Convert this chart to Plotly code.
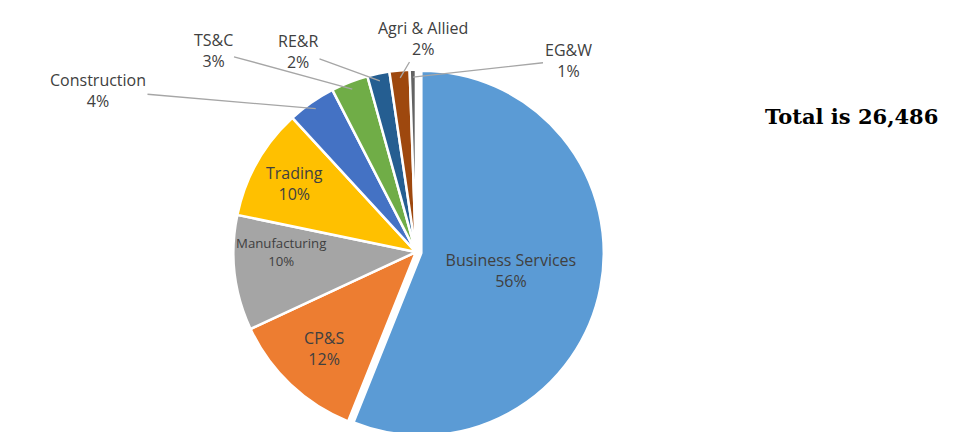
import math
import plotly.graph_objects as go

sectors = ["Business Services", "CP&S", "Manufacturing", "Trading", "Construction",
           "TS&C", "RE&R", "Agri & Allied", "EG&W"]
counts = [14850, 3180, 2700, 2620, 1130, 870, 520, 470, 146]
colors = ["#5B9BD5", "#ED7D31", "#A5A5A5", "#FFC000", "#4472C4",
          "#70AD47", "#255E91", "#9E480E", "#636363"]
inside = [True, True, True, True, False, False, False, False, False]
total_label = "Total is 26,486"

W, H = 969, 432
# pie box in pixels
dom_x = [0.221, 0.621]
dom_y = [0.0, 0.87]
pull0 = 0.03

# where the outside labels sit (pixel centre of the label)
label_xy = {
    "Construction": (90, 82),
    "TS&C": (205, 43),
    "RE&R": (290, 43),
    "Agri & Allied": (415, 31),
    "EG&W": (560, 52),
}

fig = go.Figure()

fig.add_trace(
    go.Pie(
        labels=sectors,
        values=counts,
        sort=False,
        direction="clockwise",
        rotation=0,
        pull=[pull0] + [0] * (len(sectors) - 1),
        marker=dict(colors=colors, line=dict(color="white", width=2.5)),
        texttemplate=["%{label}<br>%{percent:.0%}" if s else "" for s in inside],
        textposition=["inside" if s else "none" for s in inside],
        insidetextorientation="horizontal",
        textfont=dict(family="Open Sans", size=16, color="#404040"),
        showlegend=False,
        hoverinfo="label+value+percent",
        domain=dict(x=dom_x, y=dom_y),
    )
)

# leader-line labels for the small slices
cx = (dom_x[0] + dom_x[1]) / 2 * W
cy = (1 - (dom_y[0] + dom_y[1]) / 2) * H
r = min((dom_x[1] - dom_x[0]) * W, (dom_y[1] - dom_y[0]) * H) / 2.17
total = sum(counts)
cum = 0
for name, v, s in zip(sectors, counts, inside):
    mid = (cum + v / 2) / total * 2 * math.pi
    cum += v
    if s:
        continue
    tx = cx + r * 1.01 * math.sin(mid)
    ty = cy - r * 1.01 * math.cos(mid)
    lx, ly = label_xy[name]
    fig.add_annotation(
        text=f"{name}<br>{round(v / total * 100)}%",
        x=tx / W, y=1 - ty / H, xref="paper", yref="paper",
        ax=lx - tx, ay=ly - ty,
        showarrow=True, arrowhead=0, arrowwidth=1.3, arrowcolor="#A6A6A6",
        font=dict(family="Open Sans", size=16, color="#404040"),
        align="center",
    )

fig.add_annotation(
    text="<b>" + total_label + "</b>",
    x=843 / W, y=1 - 108 / H, xref="paper", yref="paper",
    xanchor="center", yanchor="middle", showarrow=False,
    font=dict(family="DejaVu Serif", size=21, color="black"),
)

fig.update_layout(
    width=W,
    height=H,
    margin=dict(l=0, r=0, t=0, b=0, autoexpand=False),
    paper_bgcolor="white",
    plot_bgcolor="white",
)

fig.write_html("out.html")
